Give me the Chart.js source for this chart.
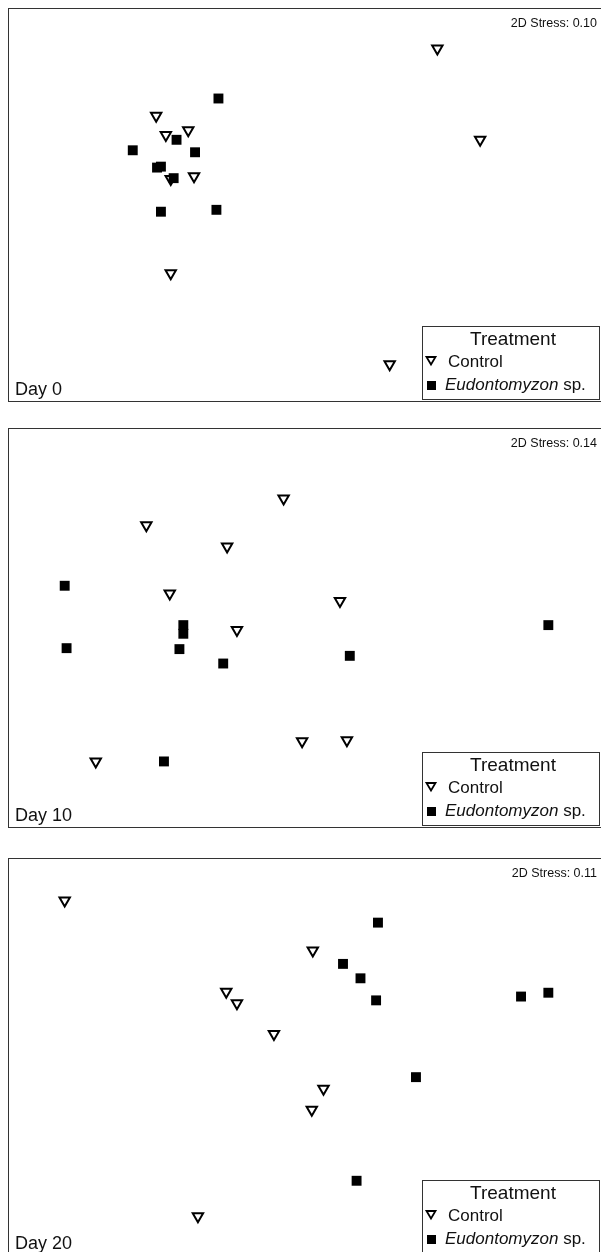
<!DOCTYPE html>
<html>
<head>
<meta charset="utf-8">
<script src="https://cdn.jsdelivr.net/npm/chart.js@4.4.1/dist/chart.umd.min.js"></script>
<style>
  html, body { margin: 0; padding: 0; background: #fff; overflow: hidden; width: 601px; height: 1252px; }
  .panel { position: absolute; left: 8px; }
</style>
</head>
<body>
<canvas id="day0" class="panel" style="top:8px" width="594" height="394"></canvas>
<canvas id="day10" class="panel" style="top:428px" width="594" height="400"></canvas>
<canvas id="day20" class="panel" style="top:858px" width="594" height="398"></canvas>
<script>
// NMDS ordinations of community samples by sampling day
const panelDays = ['Day 0', 'Day 10', 'Day 20'];
const stressValues = [0.10, 0.14, 0.11];
const legendTitle = 'Treatment';
const seriesNames = ['Control', 'Eudontomyzon sp.'];

// Day 0 scores (NMDS1, NMDS2)
const day0ControlX = [0.916, 1.212, -1.030, -0.963, -0.808, -0.768, -0.929, -0.929, 0.586];
const day0ControlY = [1.655, 0.690, 0.944, 0.741, 0.792, 0.305, 0.274, -0.721, -1.685];
const day0LampreyX = [-0.599, -0.889, -1.192, -0.761, -1.024, -0.997, -0.909, -0.997, -0.613];
const day0LampreyY = [1.127, 0.690, 0.579, 0.558, 0.396, 0.406, 0.284, -0.071, -0.051];

// Day 10 scores
const day10ControlX = [-0.148, -1.098, -0.539, -0.936, 0.242, -0.471, -0.020, 0.290, -1.448];
const day10ControlY = [1.35, 1.07, 0.85, 0.36, 0.28, -0.02, -1.18, -1.17, -1.39];
const day10LampreyX = [-1.663, -0.842, -0.842, -1.650, -0.869, -0.566, 0.310, 1.684, -0.976];
const day10LampreyY = [0.44, 0.03, -0.06, -0.21, -0.22, -0.37, -0.29, 0.03, -1.39];

// Day 20 scores
const day20ControlX = [-1.663, 0.054, -0.545, -0.471, -0.215, 0.128, 0.047, -0.741];
const day20ControlY = [1.638, 1.116, 0.683, 0.563, 0.241, -0.332, -0.553, -1.668];
const day20LampreyX = [0.505, 0.263, 0.384, 0.492, 1.495, 1.684, 0.768, 0.357];
const day20LampreyY = [1.407, 0.975, 0.824, 0.593, 0.633, 0.673, -0.211, -1.296];

const axisMin = -2, axisMax = 2;
const FONT = '"Liberation Sans", Arial, Helvetica, sans-serif';
const INK = '#111';

const toPoints = (xs, ys) => xs.map((x, i) => ({ x, y: ys[i] }));

// Frame, stress value, day label and treatment key drawn over each ordination
const panelDecor = {
  id: 'panelDecor',
  afterDraw(chart, args, opts) {
    const ctx = chart.ctx;
    const W = chart.width, H = chart.height;
    ctx.save();

    // frame
    ctx.strokeStyle = '#333';
    ctx.lineWidth = 1;
    ctx.strokeRect(0.5, 0.5, W - 1, H - 1);

    ctx.fillStyle = INK;
    ctx.textBaseline = 'alphabetic';

    // stress
    ctx.font = '12.5px ' + FONT;
    ctx.textAlign = 'right';
    ctx.fillText('2D Stress: ' + opts.stress.toFixed(2), 589, 18.5);

    // day label
    ctx.font = '18px ' + FONT;
    ctx.textAlign = 'left';
    ctx.fillText(opts.day, 7, H - 7);

    // treatment key
    const lx = 414, ly = H - 76, lw = 177, lh = 73;
    ctx.fillStyle = '#fff';
    ctx.fillRect(lx, ly, lw, lh);
    ctx.strokeStyle = '#333';
    ctx.lineWidth = 1;
    ctx.strokeRect(lx + 0.5, ly + 0.5, lw, lh);

    ctx.fillStyle = INK;
    ctx.font = '19px ' + FONT;
    ctx.textAlign = 'center';
    ctx.fillText(legendTitle, lx + 91, ly + 18.5);

    // Control symbol
    ctx.beginPath();
    ctx.moveTo(lx + 4.5, ly + 31);
    ctx.lineTo(lx + 13.5, ly + 31);
    ctx.lineTo(lx + 9, ly + 38.5);
    ctx.closePath();
    ctx.fillStyle = '#fff';
    ctx.fill();
    ctx.strokeStyle = '#000';
    ctx.lineWidth = 1.8;
    ctx.stroke();

    ctx.fillStyle = INK;
    ctx.font = '17px ' + FONT;
    ctx.textAlign = 'left';
    ctx.fillText(seriesNames[0], lx + 26, ly + 41);

    // Eudontomyzon symbol
    ctx.fillStyle = '#000';
    ctx.fillRect(lx + 5, ly + 55, 9, 9);

    const parts = seriesNames[1].split(' ');
    ctx.fillStyle = INK;
    ctx.font = 'italic 17px ' + FONT;
    ctx.fillText(parts[0], lx + 23, ly + 64);
    const w = ctx.measureText(parts[0]).width;
    ctx.font = '17px ' + FONT;
    ctx.fillText(' ' + parts.slice(1).join(' '), lx + 23 + w, ly + 64);

    ctx.restore();
  }
};

function ordination(id, day, stress, cx, cy, ex, ey) {
  return new Chart(document.getElementById(id), {
    type: 'scatter',
    data: {
      datasets: [
        {
          label: seriesNames[1],
          data: toPoints(ex, ey),
          pointStyle: 'rect',
          pointRadius: 7,
          backgroundColor: '#000',
          borderColor: '#000',
          borderWidth: 0,
          order: 0
        },
        {
          label: seriesNames[0],
          data: toPoints(cx, cy),
          pointStyle: 'triangle',
          rotation: 180,
          pointRadius: 6,
          backgroundColor: '#fff',
          borderColor: '#000',
          borderWidth: 2,
          order: 1
        }
      ]
    },
    options: {
      responsive: false,
      animation: false,
      events: [],
      layout: { padding: 0 },
      scales: {
        x: { type: 'linear', display: false, min: axisMin, max: axisMax },
        y: { type: 'linear', display: false, min: axisMin, max: axisMax }
      },
      plugins: {
        legend: { display: false },
        tooltip: { enabled: false },
        panelDecor: { day, stress }
      }
    },
    plugins: [panelDecor]
  });
}

ordination('day0', panelDays[0], stressValues[0], day0ControlX, day0ControlY, day0LampreyX, day0LampreyY);
ordination('day10', panelDays[1], stressValues[1], day10ControlX, day10ControlY, day10LampreyX, day10LampreyY);
ordination('day20', panelDays[2], stressValues[2], day20ControlX, day20ControlY, day20LampreyX, day20LampreyY);
</script>
</body>
</html>
